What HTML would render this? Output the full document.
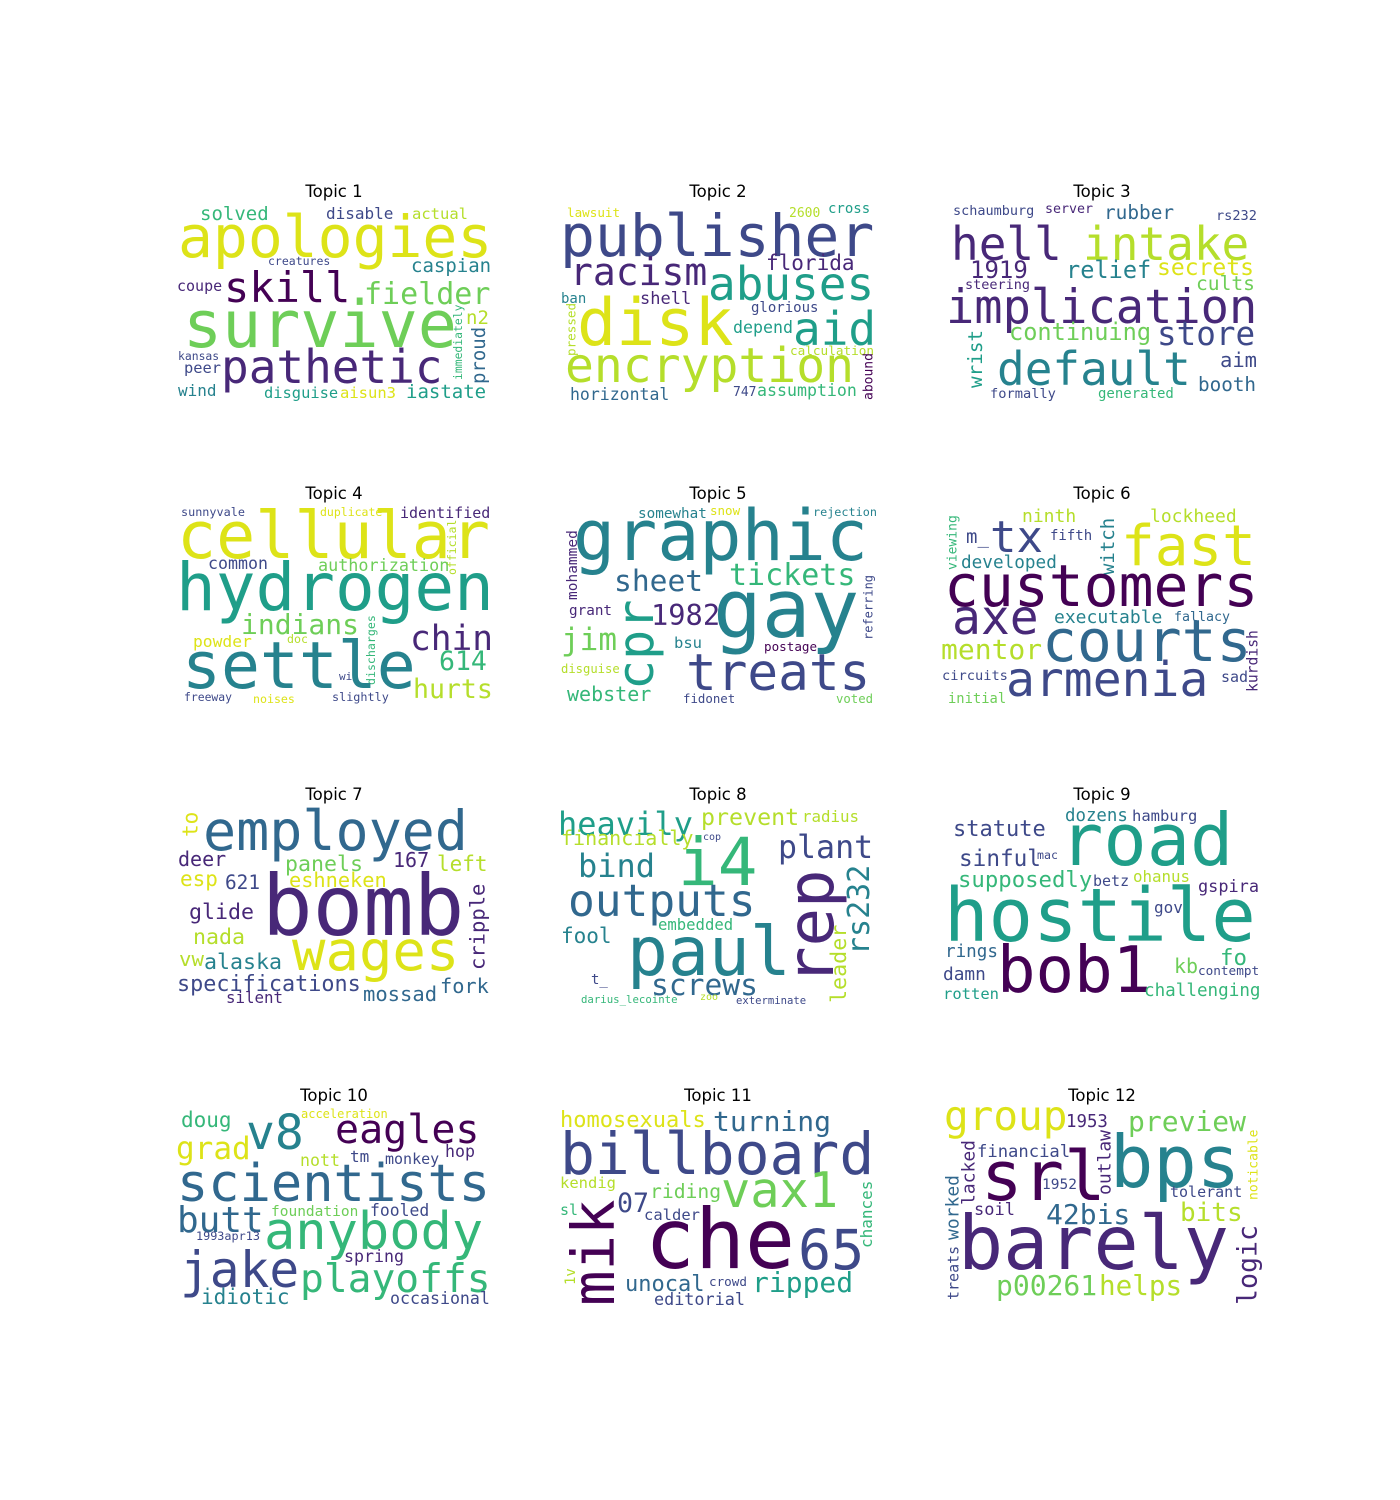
<!DOCTYPE html>
<html><head><meta charset="utf-8"><style>
html,body{margin:0;padding:0;background:#fff;}
svg{display:block;}
.t{font-family:"DejaVu Sans","Liberation Sans",sans-serif;font-size:16.5px;fill:#000;text-anchor:middle;}
.w{font-family:"DejaVu Sans Mono","Liberation Mono",monospace;}
</style></head><body>
<svg id="chart" width="1400" height="1500" viewBox="0 0 1400 1500" xmlns="http://www.w3.org/2000/svg"></svg>
<script>
const P='#440154',Q='#482878',B='#3e4989',C='#31688e',T='#26828e',G='#1f9e89',L='#35b779',M='#6ece58',Y='#b5de2b',Z='#dde318';
const topicTitles=['Topic 1','Topic 2','Topic 3','Topic 4','Topic 5','Topic 6','Topic 7','Topic 8','Topic 9','Topic 10','Topic 11','Topic 12'];
const titleX=[334,718,1102];
const titleY=[197,499,800,1101];
// word: [text, x, y, size, color, vertical]
const words1=[['solved',200,220,19,L],['disable',326,219,16,B],['actual',412,219,15.5,Y],['apologies',178,257,58,Z],['creatures',268,265,11.5,B],['caspian',411,272,19,T],['coupe',177,291,15,Q],['skill',224,302,42,P],['fielder',364,304,30,M],['survive',183,347,65,M],['n2',466,324,19,Y],['immediately',458,380,11.4,L,1],['proud',478,384,19,C,1],['kansas',178,360,11.4,B],['peer',184,373,15.4,B],['pathetic',221,383,46,Q],['wind',178,396,16,T],['disguise',264,398,15.4,G],['aisun3',340,398,15.5,Z],['iastate',406,398,19,G]];
const words2=[['lawsuit',567,217,12.6,Z],['2600',789,217,13,Y],['cross',828,213,14,G],['publisher',560,256,58,B],['racism',570,285,38,Q],['florida',766,270,21,Q],['abuses',708,300,46,G],['ban',561,303,14,T],['shell',640,304,17,Q],['glorious',751,312,14,B],['disk',577,345,65,Z],['pressed',571,356,12.6,Y,1],['depend',733,333,16.6,G],['aid',793,345,46,G],['calculation',790,355,12.7,Y],['encryption',565,382,48,Y],['abound',868,400,13,P,1],['horizontal',570,400,16.5,C],['747',733,396,13,B],['assumption',757,396,16.6,L]];
const words3=[['schaumburg',953,215,13.5,B],['server',1045,213,13.3,Q],['rubber',1104,219,19.4,C],['rs232',1216,220,13.6,B],['hell',951,260,46,Q],['intake',1083,260,46,Y],['1919',970,278,24,Q],['relief',1066,278,23.6,T],['secrets',1157,275,23,Z],['steering',965,289,13.5,Q],['cults',1196,290,19.6,M],['implication',946,323,47,Q],['continuing',1009,340,23.6,M],['store',1157,345,32.6,B],['wrist',975,388,19.3,G,1],['default',997,385,46,T],['aim',1220,367,20.5,B],['booth',1198,391,19.3,C],['formally',990,398,13.7,B],['generated',1098,398,14,L]];
const words4=[['sunnyvale',181,516,11.8,B],['duplicate',320,516,11.5,Z],['identified',400,518,15,Q],['official',452,575,11.5,Y,1],['cellular',177,558,65,Z],['common',208,569,16.6,B],['authorization',318,571,16.8,M],['hydrogen',176,610,66,G],['indians',241,634,28,M],['powder',193,647,16.3,Z],['doc',287,643,11.6,Y],['discharges',371,685,11.6,L,1],['chin',410,650,34.5,Q],['614',439,670,26.5,L],['settle',182,688,64.7,T],['wi',339,680,11,B],['hurts',413,698,26.5,Y],['freeway',184,701,11.4,B],['noises',253,703,11.6,Z],['slightly',332,701,11.8,B]];
const words5=[['somewhat',638,518,14.3,T],['snow',710,515,12.5,Z],['rejection',813,516,11.8,T],['graphic',573,560,70,T],['mohammed',572,600,14.5,Q,1],['sheet',614,591,29.6,C],['tickets',729,585,30,L],['referring',868,640,12,B,1],['grant',569,615,14.3,Q],['cpr',635,690,50,G,1],['1982',651,625,28.7,Q],['gay',713,637,81,T],['jim',561,650,31,M],['bsu',674,648,15.5,T],['disguise',561,673,12.2,Y],['postage',764,651,12.6,P],['treats',686,690,51,B],['webster',567,701,20,L],['fidonet',683,703,12.4,B],['voted',836,703,12.3,M]];
const words6=[['viewing',952,570,13,L,1],['ninth',1022,522,18,Y],['lockheed',1150,522,18,Y],['m_',966,543,19,B],['tx',990,552,44,B],['fifth',1050,540,14,B],['witch',1107,575,19,T,1],['fast',1121,565,56,Z],['developed',961,568,17.7,T],['customers',944,606,58,P],['axe',952,634,48,Q],['executable',1054,623,18,T],['fallacy',1174,621,13.3,C],['kurdish',1252,692,14.7,Q,1],['mentor',941,659,28,Y],['courts',1042,661,58,C],['circuits',942,680,13.7,B],['armenia',1006,696,48,B],['sad',1221,682,15,B],['initial',948,703,13.8,M]];
const words7=[['to',190,837,21,Z,1],['employed',203,850,55,C],['deer',178,866,20,Q],['panels',285,871,21.6,M],['167',393,867,20,Q],['left',437,871,21,Y],['esp',180,886,21,Z],['621',225,889,19.4,B],['eshneken',289,887,20.3,Z],['bomb',262,935,84,Q],['cripple',477,970,20.5,Q,1],['glide',189,919,21.6,Q],['nada',193,944,21.6,Y],['wages',292,970,55.6,Z],['vw',179,966,20.7,Y],['alaska',204,969,21.6,T],['specifications',177,991,21.8,B],['fork',440,993,20.3,C],['mossad',363,1001,20.5,C],['silent',226,1003,15.8,Q]];
const words8=[['heavily',558,835,32,G],['prevent',701,825,23.3,Y],['radius',802,822,15.8,Y],['financially',561,845,20,Y],['cop',703,840,10,B],['i4',678,885,66,L],['plant',778,858,31.6,B],['bind',578,877,32,T],['rep',810,985,64,Q,1],['rs232',858,955,30,T,1],['leader',838,1003,21.7,Y,1],['outputs',568,916,44.5,C],['embedded',658,930,15.6,L],['fool',561,943,21,T],['paul',627,975,68,T],['t_',591,984,14,B],['screws',651,995,29.6,C],['darius_lecointe',581,1003,10.7,L],['zoo',700,1000,10,Y],['exterminate',736,1004,10.6,B]];
const words9=[['dozens',1065,821,17.4,T],['hamburg',1132,821,15.5,B],['statute',953,836,22,B],['road',1060,865,72,G],['sinful',959,866,22.7,B],['mac',1037,859,11.6,B],['supposedly',958,887,22.3,L],['betz',1093,886,15,B],['ohanus',1133,882,15.8,Y],['gspira',1198,892,16.9,Q],['hostile',944,941,74,G],['gov',1154,913,16,B],['rings',945,957,17.6,C],['bob1',997,992,64,P],['damn',943,980,17.8,B],['fo',1220,965,22.4,L],['kb',1174,973,20,M],['contempt',1198,975,12.7,B],['rotten',943,999,15.5,G],['challenging',1144,996,17.6,L]];
const words10=[['doug',181,1127,21,L],['v8',246,1149,48,T],['acceleration',301,1118,12,Z],['eagles',335,1143,40,P],['hop',445,1157,16.6,Q],['grad',176,1159,31,Z],['nott',300,1166,16.6,Y],['tm',350,1162,16,B],['monkey',385,1164,15,B],['scientists',177,1201,52,C],['butt',177,1232,36,C],['foundation',271,1216,14.5,M],['fooled',370,1216,16.4,B],['anybody',264,1249,52,L],['1993apr13',196,1240,11.8,B],['spring',344,1262,16.6,Q],['jake',180,1287,49.5,B],['playoffs',300,1292,39.6,L],['idiotic',201,1304,21,T],['occasional',390,1304,16.6,B]];
const words11=[['homosexuals',560,1127,22,Z],['turning',713,1131,28,C],['billboard',560,1174,58,B],['kendig',560,1188,15.5,Y],['riding',650,1198,19.7,M],['vax1',721,1207,48.7,M],['chances',866,1248,16,L,1],['07',617,1212,26.6,B],['sl',560,1215,15,L],['mik',593,1306,59,P,1],['calder',644,1220,15.5,B],['che',645,1268,83,P],['65',798,1269,55,B],['1v',570,1285,14,Y,1],['unocal',625,1291,22,C],['crowd',709,1286,12.6,B],['ripped',752,1292,28,G],['editorial',654,1305,16.8,B]];
const words12=[['group',944,1130,41,Z],['1953',1066,1127,17.4,Q],['preview',1128,1131,28,M],['noticable',1253,1200,13,Z,1],['financial',977,1157,17.2,B],['outlaw',1104,1195,18,Q,1],['srl',981,1200,69,P],['bps',1110,1187,72,T],['lacked',968,1205,18,Q,1],['1952',1042,1189,14.5,B],['tolerant',1170,1197,15,B],['soil',974,1215,17,Q],['42bis',1046,1224,28,C],['bits',1180,1221,26,Y],['worked',952,1240,18,C,1],['treats',953,1300,15,B,1],['logic',1247,1305,26.6,Q,1],['barely',958,1269,75,Q],['p00261',996,1295,28,M],['helps',1099,1295,27.6,Y]];
const allWords=[words1,words2,words3,words4,words5,words6,words7,words8,words9,words10,words11,words12];

const svg=document.getElementById('chart');
const NS='http://www.w3.org/2000/svg';
allWords.forEach((ws,i)=>{
  const g=document.createElementNS(NS,'g');
  
  
  const t=document.createElementNS(NS,'text');
  t.setAttribute('class','t');
  t.setAttribute('x',titleX[i%3]);
  t.setAttribute('y',titleY[Math.floor(i/3)]);
  t.textContent=topicTitles[i];
  
  
  g.appendChild(t);
  ws.forEach(w=>{
    const [txt,x,y,s,c,v]=w;
    const e=document.createElementNS(NS,'text');
    e.setAttribute('class','w');
    e.setAttribute('font-size',s);
    e.setAttribute('fill',c);
    if(v){
      const bx=x+0.36*s;
      e.setAttribute('x',bx);
      e.setAttribute('y',y);
      e.setAttribute('transform','rotate(-90 '+bx+' '+y+')');
    } else {
      e.setAttribute('x',x);
      e.setAttribute('y',y);
    }
    e.textContent=txt;
    
    
    g.appendChild(e);
  });
  svg.appendChild(g);
});
</script>
</body></html>
